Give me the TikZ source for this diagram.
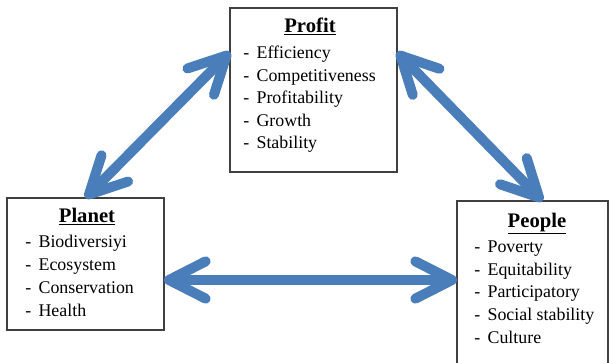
\documentclass[tikz,border=0pt]{standalone}
\usepackage{fontspec}
\setmainfont{Liberation Serif}
\usetikzlibrary{arrows.meta,calc}
\definecolor{linkblue}{RGB}{74,126,187}
\newcommand{\itm}[1]{\makebox[10pt][l]{-}#1}

\begin{document}
\begin{tikzpicture}[x=0.75pt,y=-0.75pt,%
    box/.style={draw=black!75,line width=1.1pt,inner sep=0pt,outer sep=0pt,anchor=north west},%
    title/.style={anchor=base,inner sep=0pt,font=\fontsize{15.5}{18}\selectfont\bfseries},%
    item/.style={anchor=base west,inner sep=0pt,font=\fontsize{13.4}{15}\selectfont},%
    barb/.tip={Straight Barb[length=27.5pt,width=28pt,round]},%
    link/.style={draw=linkblue,line width=7.5pt,barb-barb},%
  ]%
  \useasboundingbox (0,0) rectangle (611,362);%
  % the three boxes
  \node[box,minimum width=125.25pt,minimum height=123pt] (profit) at (230,8) {};%
  \node[box,minimum width=117.75pt,minimum height=99pt] (planet) at (7,198) {};%
  \node[box,minimum width=113.25pt,minimum height=128pt] (people) at (457,201) {};%
  % headings
  \node[title] (profit-title) at ($(profit.north west)+(80,24)$) {\underline{Profit}};%
  \node[title] (planet-title) at ($(planet.north west)+(80,24)$) {\underline{Planet}};%
  \node[title] (people-title) at ($(people.north west)+(80,26)$) {\underline{People}};%
  % lists
  \foreach \t [count=\i] in {Efficiency,Competitiveness,Profitability,Growth,Stability}%
    \node[item] (profit-\i) at ($(profit.north west)+(13,28+22.5*\i)$) {\itm{\t}};%
  \foreach \t [count=\i] in {Biodiversiyi,Ecosystem,Conservation,Health}%
    \node[item] (planet-\i) at ($(planet.north west)+(18,26+23*\i)$) {\itm{\t}};%
  \foreach \t [count=\i] in {Poverty,Equitability,Participatory,Social stability,Culture}%
    \node[item] (people-\i) at ($(people.north west)+(17,28.5+22.75*\i)$) {\itm{\t}};%
  % double arrows
  \draw[link] (planet.north) -- ($(profit.north west)+(0,44)$);%
  \draw[link] ($(profit.north east)+(0,44)$) -- ($(people.north)+(10,0)$);%
  \draw[link] ($(planet.east)+(0,16)$) -- ($(people.west|-planet.east)+(0,16)$);%
\end{tikzpicture}
\end{document}
